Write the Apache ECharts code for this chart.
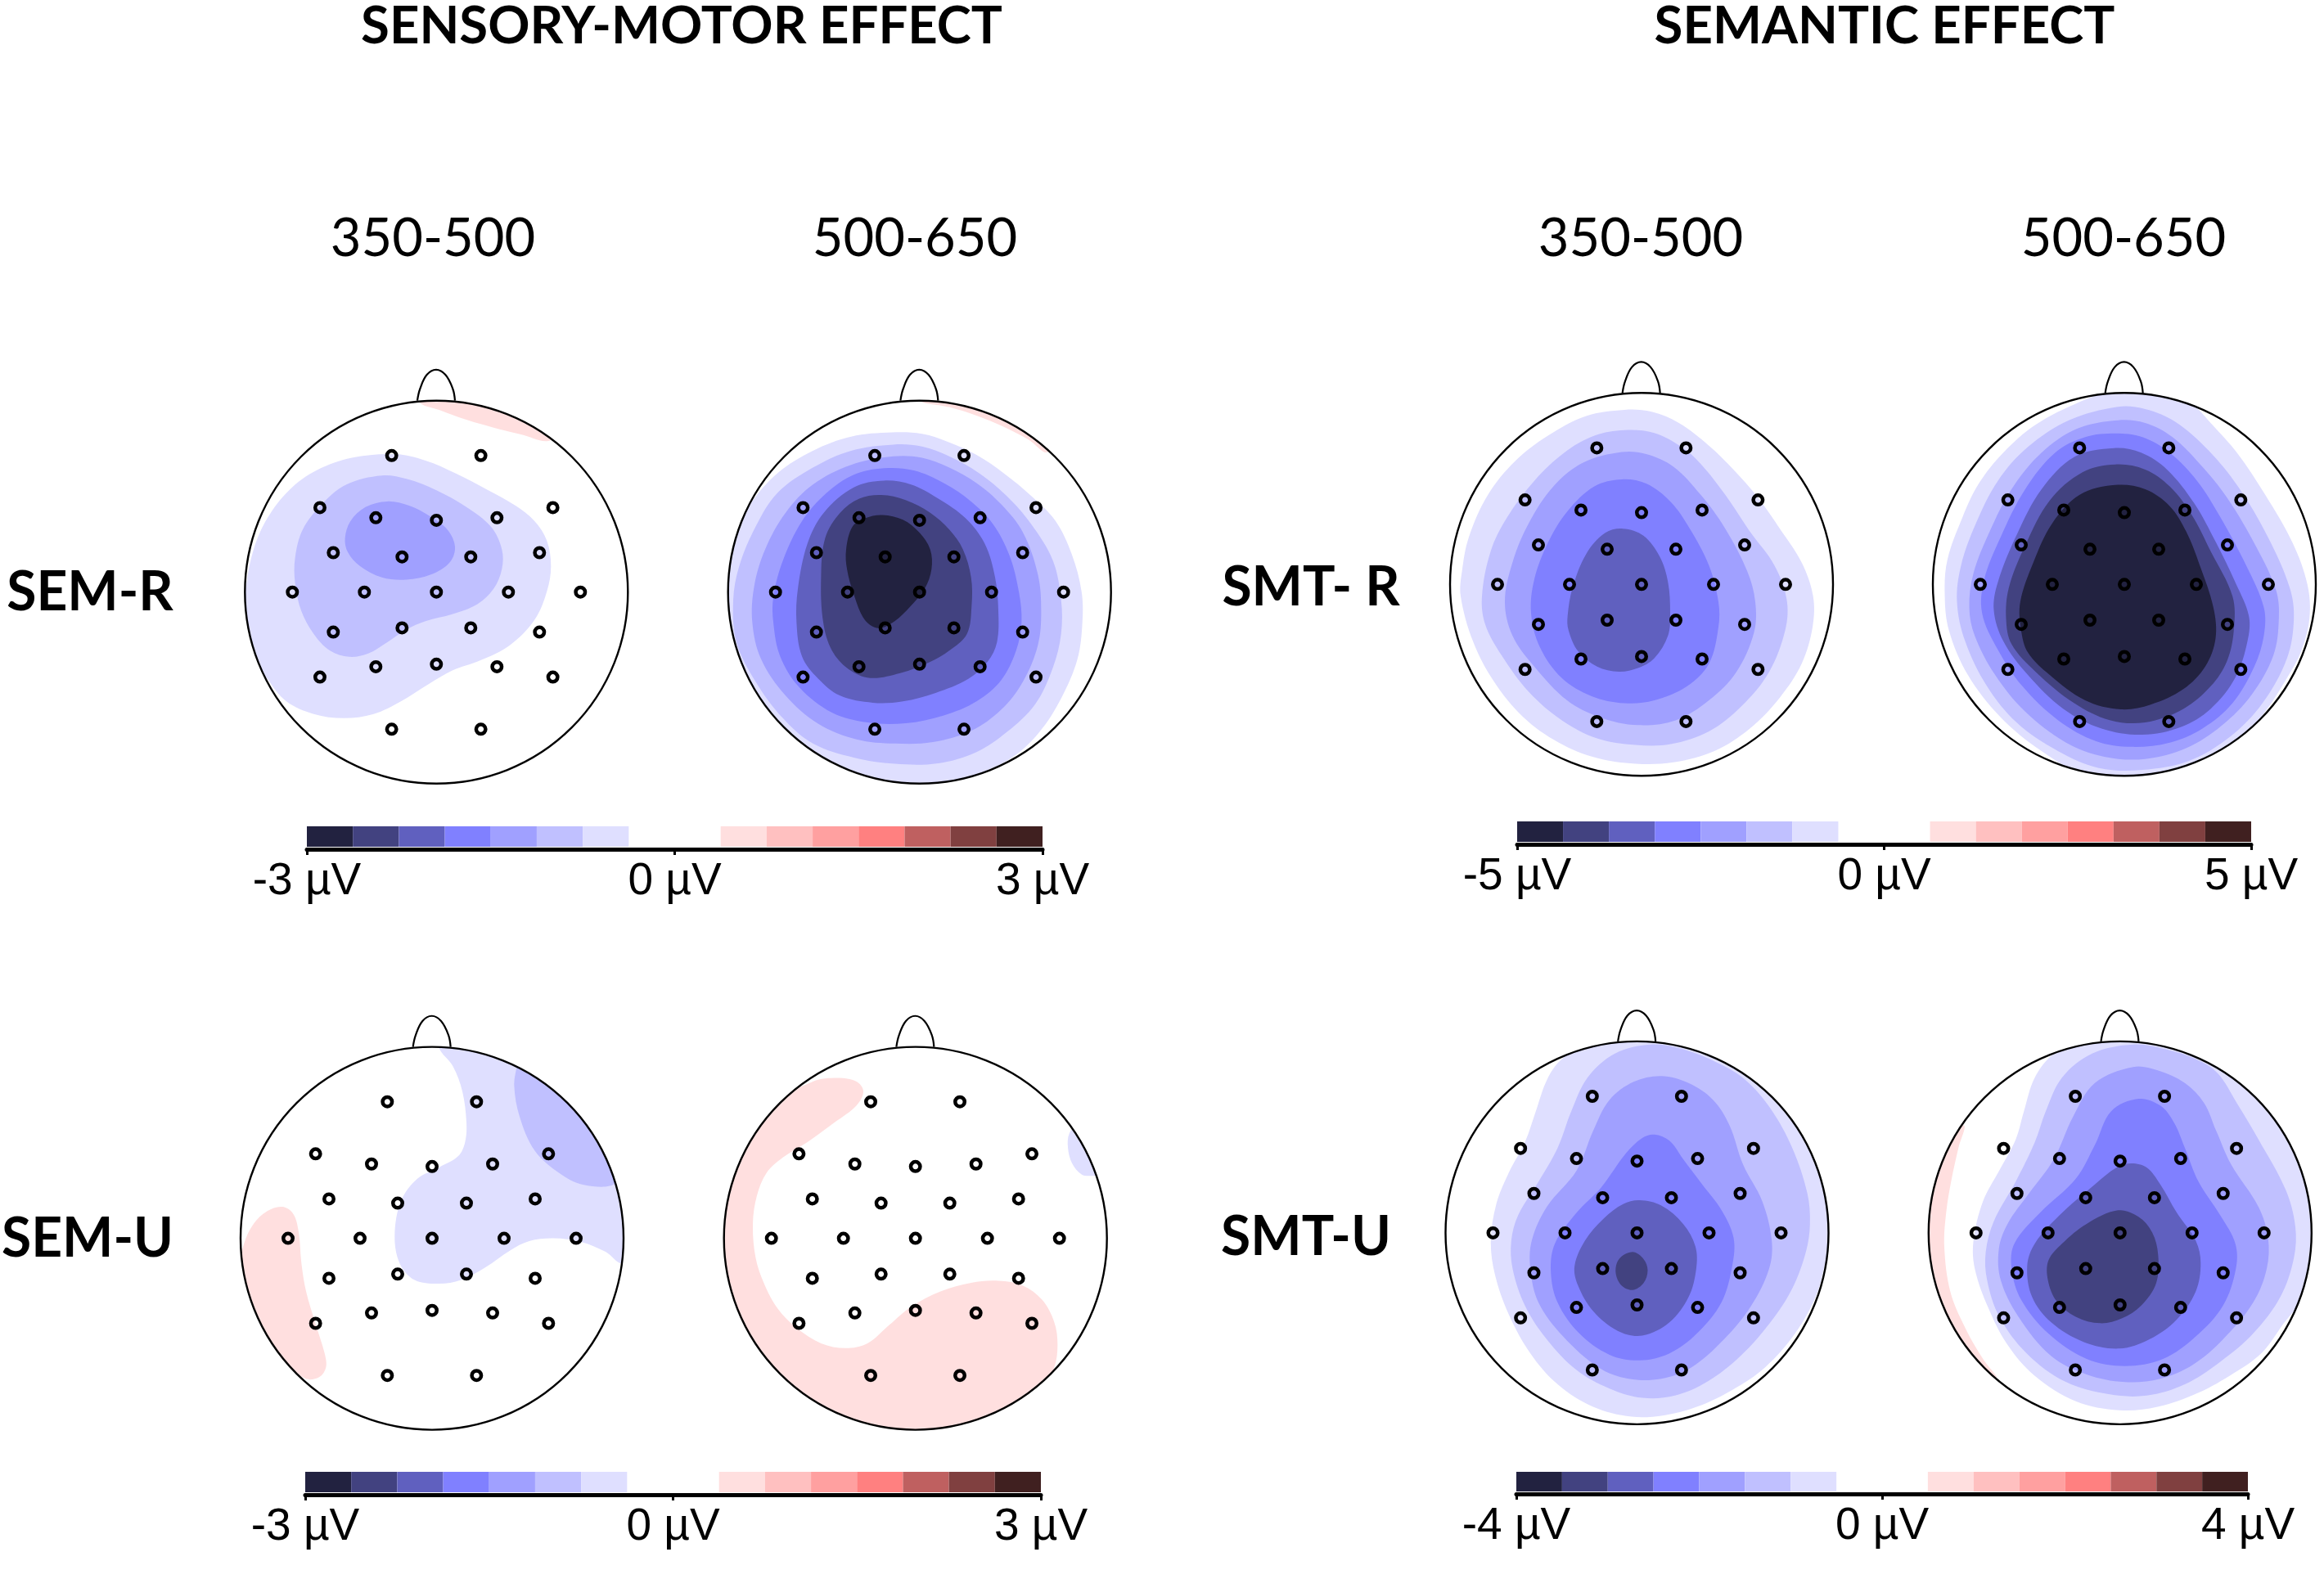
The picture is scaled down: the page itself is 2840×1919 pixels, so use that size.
<!DOCTYPE html>
<html>
<head>
<meta charset="utf-8">
<title>ERP scalp maps</title>
<style>
html, body { margin: 0; padding: 0; background: #fff; }
#main { width: 2840px; height: 1919px; }
</style>
<script src="https://cdn.jsdelivr.net/npm/echarts@6/dist/echarts.min.js"></script>
</head>
<body>
<div id="main"></div>
<script>
// electrodes, relative to head centre (scalp units: head radius is 702 wide, 680 high)
var electrodeOffsets = [[-164,-485],[163,-485],[-427,-300],[-222,-264],[0,-255],[222,-264],[427,-300],[-378,-140],[-126,-125],[126,-125],[378,-140],[-528,0],[-264,0],[0,0],[264,0],[528,0],[-378,142],[-126,127],[126,127],[378,142],[-427,302],[-222,265],[0,256],[222,265],[427,302],[-164,487],[163,487]];
var noseOffsets = [[-70,-680],[-60,-722],[-35,-772],[-1,-790],[33,-772],[60,-722],[68,-680]];

// colour steps of the scale, from -7 (darkest blue) to 7 (darkest red)
var blueSteps = ['#dfdfff', '#c0c0ff', '#a0a0ff', '#8080ff', '#6060bf', '#424280', '#222240'];
var redSteps = ['#ffdfdf', '#ffc0c0', '#ffa0a0', '#ff8080', '#bf6060', '#804040', '#402020'];
var scaleSteps = [-7,-6,-5,-4,-3,-2,-1,0,0,1,2,3,4,5,6,7];
var scaleEdges = [-1,-0.875,-0.75,-0.625,-0.5,-0.375,-0.25,-0.125,0,0.125,0.25,0.375,0.5,0.625,0.75,0.875,1];

// contour bands, each is [level, outline]
var semR350 = [
    [1, [[725,175],[800,205],[900,240],[1000,268],[1100,292],[1210,312],[1300,200],[1000,100],[725,100]]],
    [-1, [[640,362],[750,385],[860,430],[980,490],[1080,545],[1150,600],[1195,670],[1210,760],[1195,850],[1150,950],[1060,1040],[950,1095],[850,1130],[760,1180],[660,1240],[560,1285],[450,1300],[340,1285],[240,1240],[170,1160],[120,1080],[88,900],[92,830],[120,700],[170,590],[250,490],[350,420],[480,375]]],
    [-2, [[590,438],[680,450],[790,490],[900,550],[990,620],[1030,700],[1030,770],[1000,840],[940,895],[850,930],[750,955],[680,985],[610,1030],[540,1070],[470,1082],[400,1060],[340,1000],[295,920],[272,820],[272,730],[300,630],[370,540],[460,470]]],
    [-3, [[610,530],[690,545],[770,585],[830,630],[858,690],[840,745],[770,790],[680,808],[590,800],[510,760],[465,710],[455,660],[475,600],[530,550]]]
];
var semR500 = [
    [1, [[800,172],[900,195],[1000,225],[1100,265],[1190,310],[1260,355],[1300,250],[1000,100]]],
    [-1, [[690,285],[800,290],[900,320],[1000,365],[1100,430],[1200,510],[1290,600],[1350,720],[1385,850],[1388,960],[1370,1090],[1310,1230],[1230,1350],[1130,1440],[1000,1500],[900,1530],[800,1560],[500,1500],[200,1250],[60,900],[80,700],[170,540],[270,430],[400,350],[540,300]]],
    [-2, [[695,328],[800,335],[900,370],[1010,430],[1110,510],[1200,610],[1280,740],[1310,880],[1310,1000],[1280,1120],[1215,1250],[1110,1350],[1000,1420],[860,1460],[700,1462],[550,1440],[400,1390],[290,1300],[190,1170],[120,1030],[108,880],[130,760],[190,620],[270,500],[400,410],[540,350]]],
    [-3, [[695,370],[800,375],[900,410],[1000,465],[1090,540],[1170,640],[1225,790],[1237,920],[1225,1040],[1170,1170],[1090,1270],[980,1345],[840,1385],[700,1390],[560,1375],[420,1320],[300,1220],[210,1090],[178,960],[185,830],[225,700],[300,570],[400,470],[540,400]]],
    [-4, [[660,412],[770,420],[880,465],[980,530],[1060,610],[1120,720],[1155,850],[1165,960],[1145,1060],[1090,1165],[1000,1240],[880,1290],[740,1318],[600,1315],[470,1280],[350,1190],[280,1080],[255,960],[255,870],[290,740],[360,600],[450,500],[550,435]]],
    [-5, [[660,456],[760,470],[860,520],[960,590],[1030,680],[1068,800],[1080,920],[1075,1030],[1040,1100],[970,1160],[850,1210],[730,1240],[620,1245],[500,1220],[420,1160],[360,1080],[340,960],[345,840],[380,680],[440,570],[550,480]]],
    [-6, [[650,507],[740,525],[830,570],[900,630],[950,700],[980,800],[982,900],[965,1000],[900,1060],[830,1100],[720,1140],[610,1157],[530,1125],[470,1060],[438,960],[430,800],[445,660],[500,570],[570,520]]],
    [-7, [[655,578],[730,595],[790,640],[830,700],[835,770],[810,840],[760,900],[700,955],[640,980],[590,950],[550,860],[525,770],[522,700],[545,620],[590,590]]]
];
var smtR350 = [
    [-1, [[720,218],[820,225],[920,265],[1030,345],[1120,430],[1210,530],[1290,640],[1370,760],[1412,880],[1410,990],[1370,1120],[1290,1240],[1180,1350],[1050,1430],[900,1470],[760,1475],[620,1455],[480,1400],[350,1310],[240,1180],[165,1040],[120,880],[125,790],[150,670],[220,520],[320,400],[440,310],[580,240]]],
    [-2, [[720,290],[830,300],[930,350],[1000,410],[1090,520],[1180,650],[1270,770],[1315,890],[1310,1000],[1250,1150],[1150,1270],[1030,1360],[890,1405],[760,1408],[620,1385],[490,1320],[370,1220],[270,1090],[210,980],[198,880],[230,720],[290,600],[390,470],[500,370],[610,310]]],
    [-3, [[710,368],[800,375],[900,420],[1000,520],[1090,640],[1170,790],[1200,900],[1195,1010],[1130,1150],[1030,1250],[910,1320],[770,1338],[630,1310],[510,1250],[390,1130],[310,1020],[282,900],[310,760],[370,620],[460,490],[570,405]]],
    [-4, [[710,465],[800,480],[890,545],[960,640],[1030,770],[1065,900],[1065,990],[1030,1120],[950,1200],[830,1250],[720,1260],[600,1235],[490,1170],[410,1060],[378,940],[390,820],[440,690],[510,580],[610,490]]],
    [-5, [[715,640],[790,665],[850,740],[880,830],[888,940],[880,1020],[830,1100],[770,1135],[700,1148],[620,1130],[550,1075],[515,1000],[512,950],[530,850],[580,730],[650,655]]]
];
var smtR500 = [
    [-1, [[125,870],[135,750],[190,600],[250,480],[340,370],[460,270],[620,190],[740,150],[900,130],[1040,205],[1100,265],[1200,375],[1300,520],[1400,690],[1455,840],[1462,960],[1430,1080],[1380,1170],[1300,1290],[1200,1400],[1050,1480],[850,1540],[650,1520],[480,1430],[330,1310],[210,1160],[140,1000]]],
    [-2, [[760,207],[860,215],[970,260],[1090,360],[1200,490],[1310,670],[1390,850],[1405,960],[1380,1100],[1290,1260],[1170,1380],[1020,1465],[850,1497],[690,1490],[540,1430],[390,1330],[280,1200],[200,1040],[170,900],[185,770],[240,620],[320,470],[430,350],[580,255]]],
    [-3, [[760,255],[860,265],[960,315],[1060,410],[1160,530],[1270,710],[1340,860],[1350,960],[1330,1090],[1250,1230],[1140,1340],[1010,1420],[860,1458],[710,1450],[570,1400],[420,1290],[310,1160],[235,1020],[215,920],[230,800],[290,650],[370,500],[480,370],[610,285]]],
    [-4, [[750,302],[850,315],[950,370],[1050,470],[1130,590],[1230,770],[1295,920],[1295,1020],[1260,1130],[1180,1260],[1070,1350],[950,1400],[810,1415],[680,1395],[540,1320],[410,1200],[320,1070],[262,940],[270,820],[330,670],[420,500],[530,370],[640,315]]],
    [-5, [[745,354],[845,370],[940,430],[1040,550],[1120,690],[1190,830],[1240,950],[1235,1040],[1190,1170],[1100,1280],[990,1345],[850,1372],[700,1350],[560,1280],[430,1160],[340,1040],[305,930],[320,830],[390,660],[480,500],[600,385]]],
    [-6, [[750,412],[860,430],[950,490],[1030,590],[1100,720],[1180,880],[1185,1000],[1160,1110],[1100,1200],[1000,1280],[860,1328],[730,1320],[600,1260],[460,1150],[370,1050],[350,960],[360,850],[420,700],[510,540],[630,440]]],
    [-7, [[750,485],[860,500],[950,560],[1010,650],[1060,770],[1110,920],[1118,1030],[1080,1130],[1000,1210],[880,1265],[770,1282],[640,1250],[510,1160],[430,1080],[405,1000],[402,900],[450,760],[520,620],[620,520]]]
];
var semU350 = [
    [1, [[225,740],[265,765],[285,830],[295,940],[312,1040],[345,1150],[380,1260],[385,1310],[360,1345],[310,1350],[220,1280],[120,1120],[70,960],[85,870],[120,800],[170,755]]],
    [-1, [[800,175],[850,240],[885,330],[900,440],[895,510],[870,560],[800,600],[720,640],[660,720],[637,840],[655,940],[710,1000],[800,1013],[880,1000],[970,955],[1060,895],[1130,862],[1220,852],[1320,865],[1410,900],[1475,940],[1600,800],[1500,300],[1000,100],[800,100]]],
    [-2, [[1085,240],[1075,310],[1095,420],[1150,540],[1240,620],[1330,662],[1450,655],[1550,500],[1300,200],[1100,170]]]
];
var semU500 = [
    [1, [[490,282],[560,295],[585,330],[560,380],[480,440],[380,510],[290,565],[230,620],[195,700],[180,800],[190,920],[220,1010],[270,1100],[340,1170],[430,1225],[520,1242],[600,1225],[680,1160],[760,1095],[870,1040],[980,1010],[1080,1003],[1170,1020],[1240,1070],[1285,1150],[1297,1230],[1285,1310],[1200,1500],[800,1600],[300,1450],[50,1000],[60,650],[250,380],[400,295]]],
    [-1, [[1340,480],[1335,530],[1350,585],[1385,625],[1420,630],[1470,620],[1430,480],[1370,450]]]
];
var smtU350 = [
    [-1, [[500,220],[450,290],[410,400],[370,510],[310,620],[265,730],[245,860],[260,980],[310,1120],[390,1260],[490,1370],[620,1450],[760,1485],[880,1480],[1000,1450],[1130,1390],[1250,1310],[1360,1190],[1440,1050],[1486,900],[1560,800],[1480,500],[1200,180],[850,100],[620,140]]],
    [-2, [[830,163],[950,180],[1080,230],[1180,290],[1270,390],[1350,530],[1405,690],[1415,800],[1400,900],[1350,1030],[1270,1150],[1160,1270],[1040,1360],[920,1410],[800,1418],[680,1385],[560,1320],[450,1210],[370,1090],[325,960],[320,860],[345,770],[420,650],[490,530],[540,400],[600,280],[700,195]]],
    [-3, [[870,275],[970,300],[1060,360],[1120,450],[1170,590],[1240,720],[1275,860],[1265,960],[1200,1090],[1100,1210],[980,1310],[870,1350],[750,1350],[640,1310],[510,1200],[420,1080],[390,960],[395,860],[450,740],[560,610],[620,470],[680,360],[770,295]]],
    [-4, [[845,483],[900,505],[950,570],[1020,660],[1090,750],[1135,850],[1130,950],[1090,1080],[1000,1190],[900,1260],[790,1285],[680,1265],[570,1190],[490,1080],[465,970],[480,870],[560,760],[650,670],[740,550],[800,495]]],
    [-5, [[790,716],[870,735],[950,800],[995,880],[998,960],[970,1060],[900,1150],[800,1197],[710,1180],[620,1110],[565,1020],[552,950],[590,860],[660,780],[730,730]]],
    [-6, [[765,900],[805,925],[820,965],[805,1010],[765,1035],[725,1020],[703,975],[715,925]]]
];
var smtU500 = [
    [1, [[210,450],[190,530],[165,640],[145,760],[138,880],[160,1040],[215,1170],[280,1280],[330,1345],[200,1250],[60,1000],[50,700],[120,500]]],
    [-1, [[540,195],[470,280],[430,400],[400,500],[340,610],[280,720],[245,860],[250,960],[300,1100],[370,1230],[470,1340],[620,1430],[780,1462],[920,1450],[1070,1400],[1200,1330],[1300,1260],[1370,1170],[1560,900],[1450,500],[1200,180],[850,100],[640,150]]],
    [-2, [[830,163],[950,180],[1060,215],[1140,265],[1210,370],[1290,500],[1390,680],[1425,810],[1420,920],[1370,1060],[1270,1190],[1150,1290],[1020,1370],[880,1410],[740,1405],[580,1360],[440,1260],[340,1130],[295,1000],[290,900],[320,790],[400,650],[470,510],[510,400],[570,280],[680,195]]],
    [-3, [[830,243],[920,255],[1020,300],[1090,370],[1135,470],[1190,590],[1290,740],[1325,850],[1320,960],[1270,1080],[1160,1210],[1050,1300],[930,1350],[800,1362],[660,1335],[530,1270],[410,1130],[345,1000],[338,890],[370,800],[450,690],[540,570],[610,420],[690,300]]],
    [-4, [[850,356],[930,380],[980,440],[1020,530],[1070,650],[1150,770],[1205,870],[1207,960],[1160,1090],[1060,1200],[940,1280],[800,1305],[660,1280],[520,1190],[420,1070],[385,960],[395,870],[490,760],[620,640],[690,520],[750,400]]],
    [-5, [[825,585],[880,600],[930,660],[990,760],[1060,860],[1078,940],[1060,1040],[990,1140],[890,1210],[780,1243],[650,1220],[530,1150],[460,1060],[442,950],[470,870],[560,770],[690,660],[770,600]]],
    [-6, [[775,752],[850,775],[900,830],[922,910],[915,1010],[860,1090],[790,1135],[710,1153],[620,1130],[550,1075],[518,1000],[520,930],[570,870],[660,800]]]
];

var colorbarRanges = [3, 5, 3, 4];
var colorbarUnit = ' µV';

// head layout: bands, pixel centre, centre in scalp units
var headLayout = [
    { bands: semR350, px: 533.3, py: 723.7, cx: 790, cy: 852 },
    { bands: semR500, px: 1123.7, py: 723.7, cx: 791, cy: 852 },
    { bands: smtR350, px: 2006, py: 714.3, cx: 783, cy: 838 },
    { bands: smtR500, px: 2596, py: 714.3, cx: 783.5, cy: 838 },
    { bands: semU350, px: 528, py: 1513.6, cx: 774, cy: 852 },
    { bands: semU500, px: 1118.7, py: 1513.6, cx: 776, cy: 852 },
    { bands: smtU350, px: 2000.5, py: 1506.9, cx: 781, cy: 832 },
    { bands: smtU500, px: 2590.8, py: 1506.9, cx: 782.5, cy: 832 }
];
var colorbarLayout = [
    { left: 375, width: 899, top: 1010, height: 25 },
    { left: 1854, width: 897, top: 1004, height: 25 },
    { left: 373, width: 899, top: 1799, height: 25 },
    { left: 1853, width: 894, top: 1799, height: 24 }
];
var HEAD_R = 234, UNIT_X = 702, UNIT_Y = 680;

function stepColor(level) {
    return level < 0 ? blueSteps[-level - 1] : redSteps[level - 1];
}

function textTitle(text, x, y, size, weight) {
    return {
        text: text,
        left: x,
        top: y,
        padding: 0,
        textAlign: 'center',
        textVerticalAlign: 'middle',
        textStyle: { fontFamily: 'Lato', fontSize: size, fontWeight: weight, color: '#000' }
    };
}

var grids = [], xAxes = [], yAxes = [], seriesList = [];

headLayout.forEach(function (head, i) {
    grids.push({ left: head.px - HEAD_R, top: head.py - HEAD_R, width: HEAD_R * 2, height: HEAD_R * 2 });
    xAxes.push({ type: 'value', gridIndex: i, show: false, min: head.cx - UNIT_X, max: head.cx + UNIT_X });
    yAxes.push({ type: 'value', gridIndex: i, show: false, inverse: true, min: head.cy - UNIT_Y, max: head.cy + UNIT_Y });

    seriesList.push({
        type: 'custom',
        xAxisIndex: i,
        yAxisIndex: i,
        z: 2,
        silent: true,
        data: head.bands.map(function (b, k) { return [k]; }),
        renderItem: function (params, api) {
            var band = head.bands[params.dataIndex];
            var c = api.coord([head.cx, head.cy]);
            return {
                type: 'polygon',
                shape: { points: band[1].map(function (p) { return api.coord(p); }), smooth: 0.35 },
                style: { fill: stepColor(band[0]) },
                clipPath: { type: 'circle', shape: { cx: c[0], cy: c[1], r: HEAD_R } }
            };
        }
    });
    // scalp outline and nose
    seriesList.push({
        type: 'custom',
        xAxisIndex: i,
        yAxisIndex: i,
        z: 3,
        silent: true,
        data: [[0]],
        renderItem: function (params, api) {
            var c = api.coord([head.cx, head.cy]);
            return {
                type: 'group',
                children: [{
                    type: 'circle',
                    shape: { cx: c[0], cy: c[1], r: HEAD_R },
                    style: { fill: 'none', stroke: '#000', lineWidth: 2.4 }
                }, {
                    type: 'polyline',
                    shape: {
                        points: noseOffsets.map(function (p) { return api.coord([head.cx + p[0], head.cy + p[1]]); }),
                        smooth: 0.4
                    },
                    style: { fill: 'none', stroke: '#000', lineWidth: 2.2 }
                }]
            };
        }
    });
    seriesList.push({
        type: 'scatter',
        xAxisIndex: i,
        yAxisIndex: i,
        z: 4,
        silent: true,
        symbol: 'circle',
        symbolSize: 11.5,
        itemStyle: { color: 'transparent', borderColor: '#000', borderWidth: 4.5, opacity: 1 },
        data: electrodeOffsets.map(function (p) { return [head.cx + p[0], head.cy + p[1]]; })
    });
});

colorbarLayout.forEach(function (bar, n) {
    var i = headLayout.length + n;
    var range = colorbarRanges[n];
    grids.push({ left: bar.left, top: bar.top, width: bar.width, height: bar.height });
    xAxes.push({
        type: 'value',
        gridIndex: i,
        min: -range,
        max: range,
        interval: range,
        offset: 3,
        z: 5,
        splitLine: { show: false },
        axisLine: { show: true, onZero: false, lineStyle: { color: '#000', width: 5 } },
        axisTick: { show: true, length: 7, lineStyle: { color: '#000', width: 3 } },
        axisLabel: {
            show: true,
            margin: 12,
            fontFamily: 'Liberation Sans',
            fontSize: 55,
            color: '#000',
            showMinLabel: true,
            showMaxLabel: true,
            formatter: function (v) { return v + colorbarUnit; }
        }
    });
    yAxes.push({ type: 'value', gridIndex: i, show: false, min: 0, max: 1 });
    seriesList.push({
        type: 'custom',
        xAxisIndex: i,
        yAxisIndex: i,
        z: 2,
        silent: true,
        data: scaleSteps.map(function (s, k) { return [k]; }),
        renderItem: function (params, api) {
            var k = params.dataIndex;
            if (scaleSteps[k] === 0) { return null; }
            var a = api.coord([scaleEdges[k] * range, 1]);
            var b = api.coord([scaleEdges[k + 1] * range, 0]);
            return {
                type: 'rect',
                shape: { x: a[0], y: a[1], width: b[0] - a[0], height: b[1] - a[1] },
                style: { fill: stepColor(scaleSteps[k]) }
            };
        }
    });
});

var chart = echarts.init(document.getElementById('main'));
chart.setOption({
    backgroundColor: '#fff',
    animation: false,
    title: [
        textTitle('SENSORY-MOTOR EFFECT', 833, 33, 63.5, 'bold'),
        textTitle('SEMANTIC EFFECT', 2303, 33, 63.5, 'bold'),
        textTitle('350-500', 529, 292, 65, 'normal'),
        textTitle('500-650', 1118, 292, 65, 'normal'),
        textTitle('350-500', 2005, 292, 65, 'normal'),
        textTitle('500-650', 2595, 292, 65, 'normal'),
        textTitle('SEM-R', 110, 725, 66, 'bold'),
        textTitle('SMT- R', 1602, 719, 66, 'bold'),
        textTitle('SEM-U', 107, 1515, 66, 'bold'),
        textTitle('SMT-U', 1596, 1513, 66, 'bold')
    ],
    grid: grids,
    xAxis: xAxes,
    yAxis: yAxes,
    series: seriesList
});
</script>
</body>
</html>
